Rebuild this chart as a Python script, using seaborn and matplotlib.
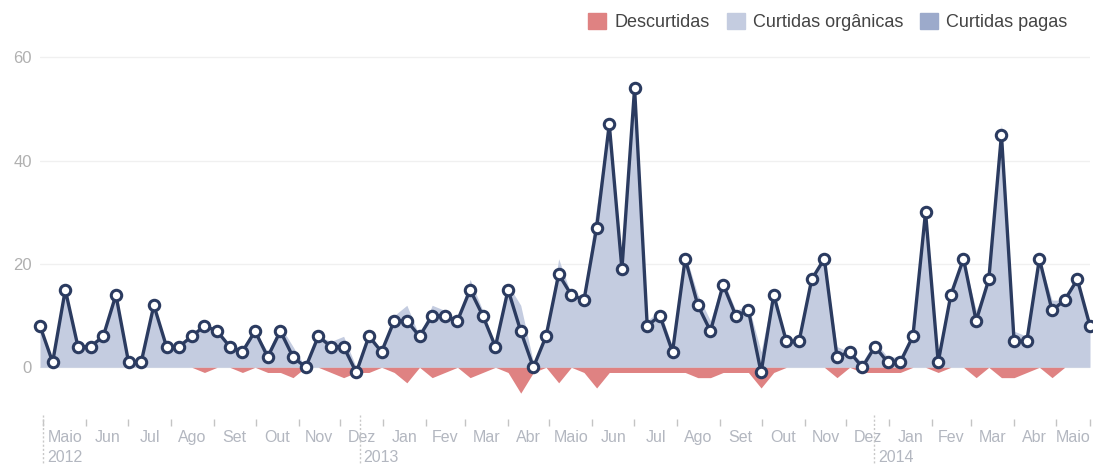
import pandas as pd
import matplotlib.pyplot as plt
import matplotlib.dates as mdates
from matplotlib.patches import Patch
import seaborn as sns

# dados (um ponto a cada ~9 dias, abr/2012 - mai/2014)
datas = pd.date_range('2012-04-28 12:00', periods=84, freq='219h')
curtidas_organicas = [8, 1, 15, 4, 4, 6, 14, 1, 1, 12, 4, 4, 6, 9, 7, 4, 4, 7, 3, 8,
                      4, 0, 6, 5, 6, 0, 7, 3, 10, 12, 6, 12, 11, 9, 17, 11, 4, 16, 12, 1,
                      6, 21, 14, 14, 31, 48, 20, 55, 9, 11, 4, 22, 14, 9, 17, 11, 12, 3, 15, 5,
                      5, 17, 21, 4, 3, 1, 5, 2, 2, 6, 30, 2, 14, 21, 11, 17, 47, 7, 6, 21,
                      13, 13, 17, 8]
curtidas_pagas = [0] * 84
descurtidas = [0, 0, 0, 0, 0, 0, 0, 0, 0, 0, 0, 0, 0, 1, 0, 0, 1, 0, 1, 1,
               2, 0, 0, 1, 2, 1, 1, 0, 1, 3, 0, 2, 1, 0, 2, 1, 0, 1, 5, 1,
               0, 3, 0, 1, 4, 1, 1, 1, 1, 1, 1, 1, 2, 2, 1, 1, 1, 4, 1, 0,
               0, 0, 0, 2, 0, 1, 1, 1, 1, 0, 0, 1, 0, 0, 2, 0, 2, 2, 1, 0,
               2, 0, 0, 0]
meses = ['Jan', 'Fev', 'Mar', 'Abr', 'Maio', 'Jun', 'Jul', 'Ago', 'Set', 'Out', 'Nov', 'Dez']
anos = [('2012', '2012-05-01'), ('2013', '2012-12-15'), ('2014', '2013-12-21')]

df = pd.DataFrame({'data': datas, 'organicas': curtidas_organicas,
                   'pagas': curtidas_pagas, 'descurtidas': descurtidas})
df['liquidas'] = df['organicas'] + df['pagas'] - df['descurtidas']

sns.set_style('white')
plt.rcParams['font.family'] = ['Liberation Sans', 'DejaVu Sans']

fig = plt.figure(figsize=(10.93, 4.65), dpi=100)
ax = fig.add_axes([40 / 1093, 46 / 465, 1050 / 1093, 372.2 / 465])

cor_vermelho = '#df8282'
cor_organica = '#c4cce0'
cor_paga = '#9caacb'
cor_linha = '#2b3b60'

ax.fill_between(df['data'], 0, df['organicas'], color=cor_organica, lw=0, zorder=2)
ax.fill_between(df['data'], df['organicas'], df['organicas'] + df['pagas'], color=cor_paga, lw=0, zorder=2)
ax.fill_between(df['data'], 0, -df['descurtidas'], color=cor_vermelho, lw=0, zorder=2)
sns.lineplot(data=df, x='data', y='liquidas', ax=ax, color=cor_linha, lw=2.4,
             marker='o', markersize=7.5, markerfacecolor='white',
             markeredgecolor=cor_linha, markeredgewidth=2.2, zorder=3, clip_on=False)

ax.set_xlim(df['data'].iloc[0], df['data'].iloc[-1])
ax.set_ylim(-10, 62)
ax.set_yticks([0, 20, 40, 60])
ax.yaxis.grid(True, color='#f0f0f0', lw=1)
ax.set_axisbelow(True)
ax.tick_params(axis='y', length=0, pad=6, labelsize=12, labelcolor='#b0b0b0')
sns.despine(ax=ax, left=True, bottom=True)
ax.set_xlabel('')
ax.set_ylabel('')

# meses: marcas no inicio, rotulos no meio da parte visivel
xmin, xmax = df['data'].iloc[0], df['data'].iloc[-1]
inicios = pd.date_range('2012-05-01', '2014-06-01', freq='MS')
meios, rotulos = [], []
for a, b in zip(inicios[:-1], inicios[1:]):
    a2, b2 = max(a, xmin), min(b, xmax)
    meios.append(a2 + (b2 - a2) / 2)
    rotulos.append(meses[a.month - 1])
ax.set_xticks(meios)
ax.set_xticklabels(rotulos)
ax.set_xticks([d for d in inicios if d <= xmax] + [xmax], minor=True)
ax.tick_params(axis='x', which='major', bottom=True, length=0, pad=8, labelsize=11.5, labelcolor='#b3b7c0')
ax.tick_params(axis='x', which='minor', bottom=True, length=5, width=1, color='#c4c4c4', direction='out')

trans = ax.get_xaxis_transform()
for ano, d in anos:
    xd = mdates.date2num(pd.Timestamp(d))
    ax.plot([xd, xd], [0.01, -0.13], transform=trans, clip_on=False,
            color='#c8c8c8', lw=1, ls=(0, (1.5, 1.5)))
    ax.annotate(ano, xy=(xd, 0), xycoords=trans, xytext=(3, -28), textcoords='offset points',
                ha='left', va='center', fontsize=11.5, color='#b3b7c0')

handles = [Patch(color=cor_vermelho, label='Descurtidas'),
           Patch(color=cor_organica, label='Curtidas orgânicas'),
           Patch(color=cor_paga, label='Curtidas pagas')]
fig.legend(handles=handles, loc='upper right', bbox_to_anchor=(1084 / 1093, 1.008), ncol=3,
           frameon=False, fontsize=13, handlelength=1.0, handleheight=1.0,
           handletextpad=0.45, columnspacing=0.95, labelcolor='#444444')

plt.savefig('out.png', dpi=100)
